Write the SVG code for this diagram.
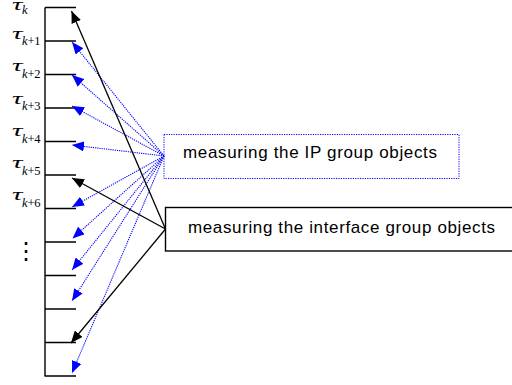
<svg xmlns="http://www.w3.org/2000/svg" width="512" height="385" viewBox="0 0 512 385">
  <style>
    .axis { stroke: #000; stroke-width: 1.4; fill: none; }
    .tau { font-family: "Liberation Serif", "Times New Roman", serif; font-style: italic; font-size: 17px; fill: #000; }
    .sub { font-family: "Liberation Serif", "Times New Roman", serif; font-size: 12.5px; fill: #000; }
    .sub .it { font-style: italic; }
    .lbl { font-family: "Liberation Sans", Arial, sans-serif; font-size: 17px; fill: #000; }
    .blue { stroke: #0000ff; stroke-width: 1.1; stroke-dasharray: 1.2 1; fill: none; }
    .black { stroke: #000; stroke-width: 1.3; fill: none; }
  </style>
  <defs>
    <marker id="headBlue" markerUnits="userSpaceOnUse" markerWidth="12" markerHeight="10" refX="12" refY="5" orient="auto">
      <path d="M0,0 L12,5 L0,10 z" fill="#0000ff"/>
    </marker>
    <marker id="headBlack" markerUnits="userSpaceOnUse" markerWidth="12" markerHeight="10" refX="12" refY="5" orient="auto">
      <path d="M0,0 L12,5 L0,10 z" fill="#000"/>
    </marker>
  </defs>
  <rect width="512" height="385" fill="#fff"/>

  <!-- time axis with tick marks -->
  <g id="timeline">
    <path class="axis" d="M45,7.5 V376.5
      M45,7.5 H76 M45,41 H76 M45,74.5 H76 M45,108 H76 M45,141.5 H76 M45,175 H76
      M45,208.5 H76 M45,242 H76 M45,275.5 H76 M45,309 H76 M45,342.5 H76 M45,376 H76"/>
  </g>

  <!-- time-step labels -->
  <g id="labels">
    <text class="tau" x="12" y="9.5" textLength="10.5" lengthAdjust="spacingAndGlyphs">τ</text><text class="sub" x="22" y="14"><tspan class="it">k</tspan></text>
    <text class="tau" x="12" y="38.5" textLength="10.5" lengthAdjust="spacingAndGlyphs">τ</text><text class="sub" x="22" y="45" textLength="18.5"><tspan class="it">k</tspan>+1</text>
    <text class="tau" x="12" y="71" textLength="10.5" lengthAdjust="spacingAndGlyphs">τ</text><text class="sub" x="22" y="77.5" textLength="18.5"><tspan class="it">k</tspan>+2</text>
    <text class="tau" x="12" y="103.5" textLength="10.5" lengthAdjust="spacingAndGlyphs">τ</text><text class="sub" x="22" y="110" textLength="18.5"><tspan class="it">k</tspan>+3</text>
    <text class="tau" x="12" y="136" textLength="10.5" lengthAdjust="spacingAndGlyphs">τ</text><text class="sub" x="22" y="142.5" textLength="18.5"><tspan class="it">k</tspan>+4</text>
    <text class="tau" x="12" y="168" textLength="10.5" lengthAdjust="spacingAndGlyphs">τ</text><text class="sub" x="22" y="174.5" textLength="18.5"><tspan class="it">k</tspan>+5</text>
    <text class="tau" x="12" y="200" textLength="10.5" lengthAdjust="spacingAndGlyphs">τ</text><text class="sub" x="22" y="206.5" textLength="18.5"><tspan class="it">k</tspan>+6</text>
    <text x="26" y="258.5" font-family="DejaVu Sans, sans-serif" font-size="24" text-anchor="middle">⋮</text>
  </g>

  <!-- IP group box -->
  <g id="ip-group">
    <rect x="164" y="134.5" width="295" height="44" fill="none" stroke="#0000ff" stroke-width="1" stroke-dasharray="1.2 1.2"/>
    <text class="lbl" x="183" y="157.5" textLength="254">measuring the IP group objects</text>
  </g>

  <!-- interface group box (runs past the right edge) -->
  <g id="interface-group">
    <rect x="165.5" y="207.5" width="360" height="43.5" fill="none" stroke="#000" stroke-width="1.4"/>
    <text class="lbl" x="188" y="232.5" textLength="307">measuring the interface group objects</text>
  </g>

  <!-- connectors -->
  <g id="connectors">
    <g class="blue" marker-end="url(#headBlue)">
      <line x1="164" y1="156" x2="72" y2="42"/>
      <line x1="164" y1="156" x2="72" y2="75"/>
      <line x1="164" y1="156" x2="72" y2="106"/>
      <line x1="164" y1="156" x2="72" y2="145"/>
      <line x1="164" y1="156" x2="72" y2="207"/>
      <line x1="164" y1="156" x2="72.5" y2="238.5"/>
      <line x1="164" y1="156" x2="72" y2="270"/>
      <line x1="164" y1="156" x2="72" y2="301"/>
      <line x1="164" y1="156" x2="72" y2="373"/>
    </g>
    <g class="black" marker-end="url(#headBlack)">
      <line x1="165.5" y1="229" x2="71.5" y2="11"/>
      <line x1="165.5" y1="229" x2="72" y2="178"/>
      <line x1="165.5" y1="229" x2="71" y2="343"/>
    </g>
  </g>
</svg>
